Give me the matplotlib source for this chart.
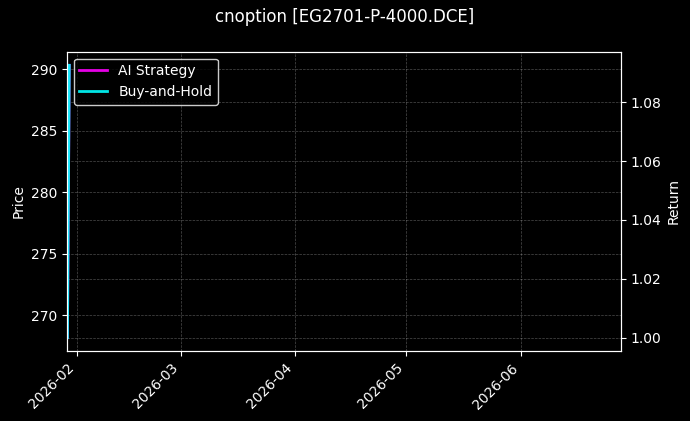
import matplotlib
matplotlib.use('Agg')
import matplotlib.pyplot as plt
import matplotlib.dates as mdates
import pandas as pd

# data
dates = pd.to_datetime(['2026-01-29 10:00', '2026-01-29 22:00'])
price = [268.2, 290.3]
ai_strategy = [1.0, 1.0925]
buy_hold = [1.0, 1.0925]
x_range = pd.to_datetime(['2026-01-29 07:10', '2026-06-28 01:10'])

plt.style.use('dark_background')
fig = plt.figure(figsize=(6.9, 4.21), dpi=100)
ax1 = fig.add_axes([0.0971, 0.1656, 0.8025, 0.7116])

# price on the left axis
ax1.plot(dates, price, color='white', linewidth=1, alpha=0.6)
ax1.set_ylabel('Price')
ax1.grid(True, linestyle='--', linewidth=0.5, alpha=0.3)

# returns on the right axis
ax2 = ax1.twinx()
ax2.plot(dates, ai_strategy, color='magenta', linewidth=2, alpha=0.9, label='AI Strategy')
ax2.plot(dates, buy_hold, color='cyan', linewidth=2, alpha=0.9, label='Buy-and-Hold')
ax2.set_ylabel('Return')
ax2.grid(True, linestyle='--', linewidth=0.5, alpha=0.3)
ax2.legend(loc='upper left', facecolor='black', edgecolor='white')

ax1.set_xlim(x_range[0], x_range[1])
ax1.xaxis.set_major_locator(mdates.MonthLocator())
ax1.xaxis.set_major_formatter(mdates.DateFormatter('%Y-%m'))
plt.setp(ax1.get_xticklabels(), rotation=45, ha='right')

fig.suptitle('cnoption [EG2701-P-4000.DCE]')
fig.savefig('out.png', dpi=100)
